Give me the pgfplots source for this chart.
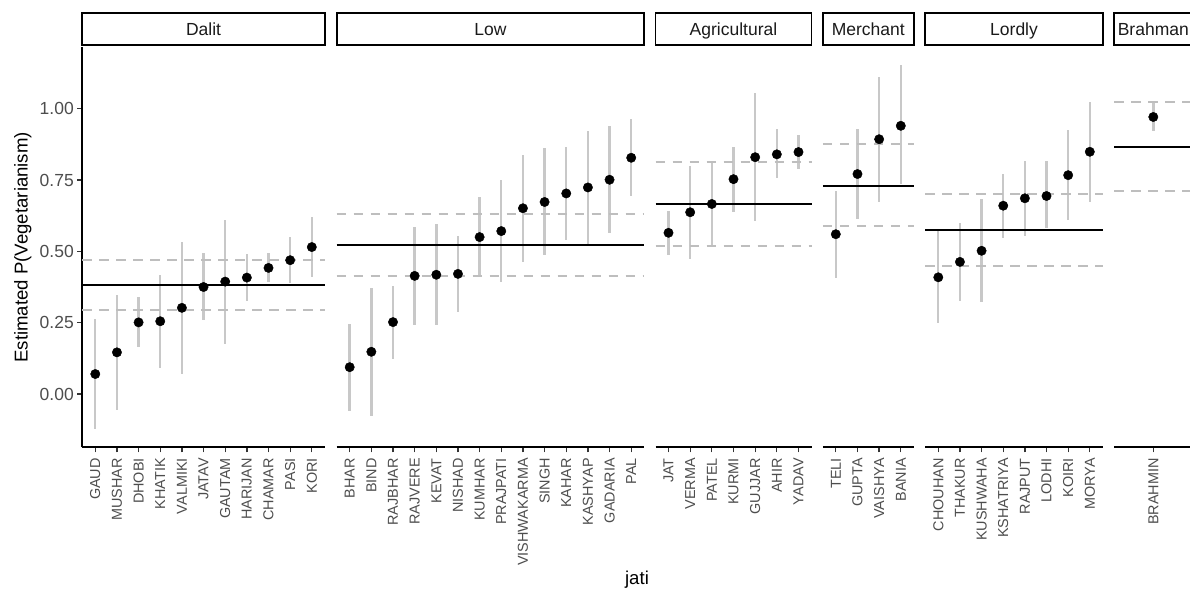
\documentclass[border=0pt]{standalone}
\usepackage{fontspec}
\setmainfont{Liberation Sans}
\usepackage{pgfplots}
\usepackage{pgfplotstable}
\pgfplotsset{compat=1.18}
\definecolor{tickgrey}{HTML}{4D4D4D}
\definecolor{tickcol}{HTML}{333333}
\definecolor{barcol}{HTML}{C8C8C8}
\definecolor{dashcol}{HTML}{BEBEBE}
\definecolor{striptext}{HTML}{1A1A1A}

\pgfplotstableread{
x y lo hi
1 0.070 -0.124 0.262
2 0.146 -0.056 0.347
3 0.251 0.164 0.339
4 0.255 0.090 0.417
5 0.302 0.070 0.533
6 0.375 0.259 0.493
7 0.394 0.174 0.610
8 0.408 0.327 0.490
9 0.442 0.391 0.495
10 0.469 0.388 0.551
11 0.515 0.409 0.621
}\dalit

\pgfplotstableread{
x y lo hi
1 0.094 -0.060 0.245
2 0.148 -0.076 0.370
3 0.252 0.124 0.380
4 0.414 0.241 0.585
5 0.418 0.241 0.597
6 0.421 0.287 0.554
7 0.550 0.414 0.689
8 0.571 0.394 0.749
9 0.651 0.464 0.838
10 0.673 0.486 0.861
11 0.703 0.540 0.867
12 0.724 0.526 0.923
13 0.751 0.565 0.939
14 0.828 0.693 0.964
}\low

\pgfplotstableread{
x y lo hi
1 0.565 0.487 0.643
2 0.637 0.474 0.799
3 0.666 0.519 0.812
4 0.753 0.637 0.865
5 0.830 0.606 1.054
6 0.840 0.756 0.928
7 0.848 0.788 0.909
}\agri

\pgfplotstableread{
x y lo hi
1 0.560 0.406 0.712
2 0.771 0.612 0.930
3 0.893 0.674 1.110
4 0.940 0.736 1.153
}\merchant

\pgfplotstableread{
x y lo hi
1 0.409 0.248 0.572
2 0.463 0.325 0.598
3 0.502 0.321 0.682
4 0.660 0.548 0.772
5 0.686 0.554 0.818
6 0.694 0.581 0.817
7 0.767 0.609 0.924
8 0.849 0.673 1.025
}\lordly

\pgfplotstableread{
x y lo hi
1 0.971 0.921 1.025
}\brahman

\pgfplotsset{
  panel/.style={
    scale only axis, height=400bp,
    ymin=-0.1868, ymax=1.2152,
    anchor=south west,
    axis x line*=bottom,
    axis line style={-, line width=1.8bp, black},
    tick align=outside,
    major tick length=5bp,
    tick style={line width=1.3bp, tickcol},
    xticklabel style={rotate=90, anchor=east, font=\fontsize{14.4bp}{14.4bp}\selectfont, text=tickgrey},
    xticklabel shift=2.5bp,
    yticklabel style={font=\fontsize{17.5bp}{17.5bp}\selectfont, text=tickgrey},
    clip=false,
  },
  noy/.style={axis y line=none, ytick=\empty},
  ebar/.style={forget plot, draw=none, mark=none,
    error bars/y dir=both, error bars/y explicit, error bars/error mark=none,
    error bars/error bar style={draw=barcol, line width=2.4bp, solid}},
  pts/.style={only marks, mark=*, mark size=4.7bp, mark options={fill=black, draw=black, solid}},
  mean/.style={black, line width=2bp, forget plot, mark=none},
  ci/.style={dashcol, line width=1.9bp, dash pattern=on 9.5bp off 7.5bp, forget plot, mark=none},
}

\newcommand\strip[2]{%
  \draw[line width=1.8bp, black] ([yshift=2bp]#1.north west) rectangle ([yshift=34bp]#1.north east);
  \node[anchor=base, font=\fontsize{17.5bp}{17.5bp}\selectfont, text=striptext] at ([yshift=11.3bp]#1.north) {#2};
}

\begin{document}
\begin{tikzpicture}
\useasboundingbox (0,0) rectangle (1190bp,592bp);

% Dalit
\begin{axis}[panel, name=p1, at={(82.3bp,144.7bp)}, width=242.5bp,
  xmin=0.4, xmax=11.6,
  axis y line*=left,
  ytick={0,0.25,0.5,0.75,1}, yticklabels={0.00,0.25,0.50,0.75,1.00},
  xtick={1,...,11},
  xticklabels={GAUD,MUSHAR,DHOBI,KHATIK,VALMIKI,JATAV,GAUTAM,HARIJAN,CHAMAR,PASI,KORI}]
\addplot[ebar] table[x=x, y=y, y error plus expr=\thisrow{hi}-\thisrow{y}, y error minus expr=\thisrow{y}-\thisrow{lo}] {\dalit};
\addplot[ci] coordinates {(0.4,0.470) (11.6,0.470)};
\addplot[ci] coordinates {(0.4,0.295) (11.6,0.295)};
\addplot[mean] coordinates {(0.4,0.382) (11.6,0.382)};
\addplot[pts] table[x=x, y=y] {\dalit};
\end{axis}

% Low
\begin{axis}[panel, noy, name=p2, at={(336.7bp,144.7bp)}, width=307.5bp,
  xmin=0.4, xmax=14.6,
  xtick={1,...,14},
  xticklabels={BHAR,BIND,RAJBHAR,RAJVERE,KEVAT,NISHAD,KUMHAR,PRAJPATI,VISHWAKARMA,SINGH,KAHAR,KASHYAP,GADARIA,PAL}]
\addplot[ebar] table[x=x, y=y, y error plus expr=\thisrow{hi}-\thisrow{y}, y error minus expr=\thisrow{y}-\thisrow{lo}] {\low};
\addplot[ci] coordinates {(0.4,0.630) (14.6,0.630)};
\addplot[ci] coordinates {(0.4,0.415) (14.6,0.415)};
\addplot[mean] coordinates {(0.4,0.522) (14.6,0.522)};
\addplot[pts] table[x=x, y=y] {\low};
\end{axis}

% Agricultural
\begin{axis}[panel, noy, name=p3, at={(655.5bp,144.7bp)}, width=156bp,
  xmin=0.4, xmax=7.6,
  xtick={1,...,7},
  xticklabels={JAT,VERMA,PATEL,KURMI,GUJJAR,AHIR,YADAV}]
\addplot[ebar] table[x=x, y=y, y error plus expr=\thisrow{hi}-\thisrow{y}, y error minus expr=\thisrow{y}-\thisrow{lo}] {\agri};
\addplot[ci] coordinates {(0.4,0.813) (7.6,0.813)};
\addplot[ci] coordinates {(0.4,0.519) (7.6,0.519)};
\addplot[mean] coordinates {(0.4,0.666) (7.6,0.666)};
\addplot[pts] table[x=x, y=y] {\agri};
\end{axis}

% Merchant
\begin{axis}[panel, noy, name=p4, at={(822.8bp,144.7bp)}, width=91bp,
  xmin=0.4, xmax=4.6,
  xtick={1,...,4},
  xticklabels={TELI,GUPTA,VAISHYA,BANIA}]
\addplot[ebar] table[x=x, y=y, y error plus expr=\thisrow{hi}-\thisrow{y}, y error minus expr=\thisrow{y}-\thisrow{lo}] {\merchant};
\addplot[ci] coordinates {(0.4,0.875) (4.6,0.875)};
\addplot[ci] coordinates {(0.4,0.588) (4.6,0.588)};
\addplot[mean] coordinates {(0.4,0.730) (4.6,0.730)};
\addplot[pts] table[x=x, y=y] {\merchant};
\end{axis}

% Lordly
\begin{axis}[panel, noy, name=p5, at={(925.3bp,144.7bp)}, width=177.5bp,
  xmin=0.4, xmax=8.6,
  xtick={1,...,8},
  xticklabels={CHOUHAN,THAKUR,KUSHWAHA,KSHATRIYA,RAJPUT,LODHI,KOIRI,MORYA}]
\addplot[ebar] table[x=x, y=y, y error plus expr=\thisrow{hi}-\thisrow{y}, y error minus expr=\thisrow{y}-\thisrow{lo}] {\lordly};
\addplot[ci] coordinates {(0.4,0.700) (8.6,0.700)};
\addplot[ci] coordinates {(0.4,0.449) (8.6,0.449)};
\addplot[mean] coordinates {(0.4,0.575) (8.6,0.575)};
\addplot[pts] table[x=x, y=y] {\lordly};
\end{axis}

% Brahman
\begin{axis}[panel, noy, name=p6, at={(1114.3bp,144.7bp)}, width=78bp,
  xmin=-0.8, xmax=2.8,
  xtick={1},
  xticklabels={BRAHMIN}]
\addplot[ebar] table[x=x, y=y, y error plus expr=\thisrow{hi}-\thisrow{y}, y error minus expr=\thisrow{y}-\thisrow{lo}] {\brahman};
\addplot[ci] coordinates {(-0.8,1.025) (2.8,1.025)};
\addplot[ci] coordinates {(-0.8,0.712) (2.8,0.712)};
\addplot[mean] coordinates {(-0.8,0.867) (2.8,0.867)};
\addplot[pts] table[x=x, y=y] {\brahman};
\end{axis}

\strip{p1}{Dalit}
\strip{p2}{Low}
\strip{p3}{Agricultural}
\strip{p4}{Merchant}
\strip{p5}{Lordly}
\strip{p6}{Brahman}

\node[rotate=90, anchor=base, font=\fontsize{18.6bp}{18.6bp}\selectfont] at (27.5bp,344.7bp) {Estimated P(Vegetarianism)};
\node[anchor=base, font=\fontsize{18.6bp}{18.6bp}\selectfont] at (637bp,7.5bp) {jati};
\end{tikzpicture}
\end{document}
